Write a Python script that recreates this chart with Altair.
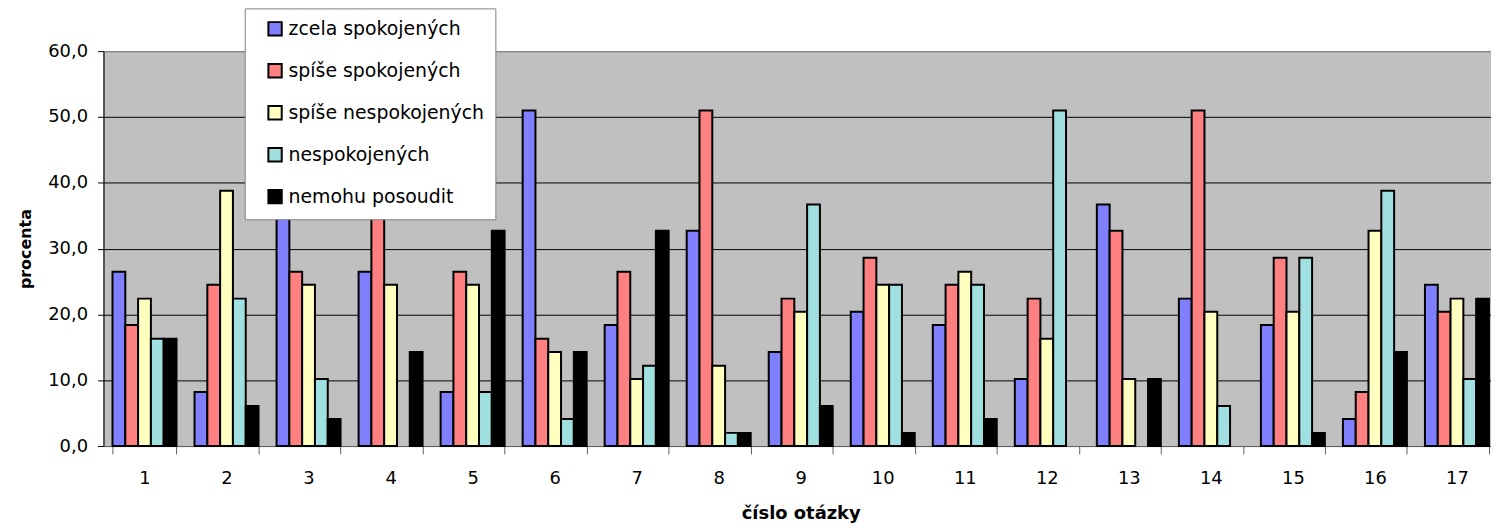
import altair as alt
import pandas as pd

questions = [str(i) for i in range(1, 18)]
series = ["zcela spokojených", "spíše spokojených", "spíše nespokojených", "nespokojených", "nemohu posoudit"]
colors = ["#8080FF", "#FF8080", "#FFFFC0", "#A0E0E0", "#000000"]

zcela = [26.5, 8.2, 34.7, 26.5, 8.2, 51.0, 18.4, 32.7, 14.3, 20.4, 18.4, 10.2, 36.7, 22.4, 18.4, 4.1, 24.5]
spise_spok = [18.4, 24.5, 26.5, 34.7, 26.5, 16.3, 26.5, 51.0, 22.4, 28.6, 24.5, 22.4, 32.7, 51.0, 28.6, 8.2, 20.4]
spise_nespok = [22.4, 38.8, 24.5, 24.5, 24.5, 14.3, 10.2, 12.2, 20.4, 24.5, 26.5, 16.3, 10.2, 20.4, 20.4, 32.7, 22.4]
nespok = [16.3, 22.4, 10.2, 0.0, 8.2, 4.1, 12.2, 2.0, 36.7, 24.5, 24.5, 51.0, 0.0, 6.1, 28.6, 38.8, 10.2]
nemohu = [16.3, 6.1, 4.1, 14.3, 32.7, 14.3, 32.7, 2.0, 6.1, 2.0, 4.1, 0.0, 10.2, 0.0, 2.0, 14.3, 22.4]

rows = []
for name, vals in zip(series, [zcela, spise_spok, spise_nespok, nespok, nemohu]):
    for q, v in zip(questions, vals):
        rows.append({"q": q, "s": name, "value": v})
df = pd.DataFrame(rows)

chart = (
    alt.Chart(df)
    .transform_filter("datum.value > 0")
    .mark_bar(stroke="black", strokeWidth=2)
    .encode(
        x=alt.X(
            "q:N",
            sort=questions,
            scale=alt.Scale(domain=questions, range=[0, 1402], paddingInner=0.22, paddingOuter=0.11),
            axis=alt.Axis(
                title="číslo otázky",
                labelAngle=0,
                tickBand="extent",
                tickSize=8,
                tickColor="#606060",
                domainColor="#606060",
                labelPadding=16,
                titlePadding=17,
                labelFontSize=18,
                titleFontSize=18,
            ),
        ),
        xOffset=alt.XOffset("s:N", sort=series, scale=alt.Scale(domain=series, paddingInner=0, paddingOuter=0)),
        y=alt.Y(
            "value:Q",
            scale=alt.Scale(domain=[0, 60], nice=False),
            axis=alt.Axis(
                title="procenta",
                values=[0, 10, 20, 30, 40, 50, 60],
                labelExpr="replace(format(datum.value, '.1f'), '.', ',')",
                tickSize=6,
                tickColor="black",
                domainColor="black",
                labelPadding=10,
                titlePadding=14,
                labelFontSize=18,
                titleFontSize=16,
                grid=True,
                gridColor={"condition": {"test": "datum.value === 60 || datum.value === 0", "value": "#808080"}, "value": "black"},
            ),
        ),
        color=alt.Color(
            "s:N",
            sort=series,
            scale=alt.Scale(domain=series, range=colors),
            legend=alt.Legend(
                title=None,
                orient="none",
                legendX=142,
                legendY=-43,
                fillColor="white",
                strokeColor="#808080",
                padding=11,
                symbolType="square",
                symbolSize=180,
                symbolStrokeColor="black",
                symbolStrokeWidth=2,
                symbolOffset=10,
                labelFontSize=19,
                labelOffset=4,
                labelLimit=400,
                rowPadding=19.2,
                labelFont="DejaVu Sans",
                labelColor="black",
            ),
        ),
    )
    .properties(
        width=1395,
        height=397,
        autosize=alt.AutoSizeParams(type="none"),
        padding={"left": 96, "top": 42, "right": 0, "bottom": 82},
    )
    .configure(background="white")
    .configure_view(fill="#C0C0C0", stroke="#808080", strokeWidth=1)
    .configure_axis(
        labelFont="DejaVu Sans",
        titleFont="DejaVu Sans",
        labelColor="black",
        titleColor="black",
        titleFontWeight="bold",
        gridWidth=1,
        domainWidth=1,
        tickWidth=1,
    )
)

chart.save("out.html", embed_options={"renderer": "svg", "actions": False})
